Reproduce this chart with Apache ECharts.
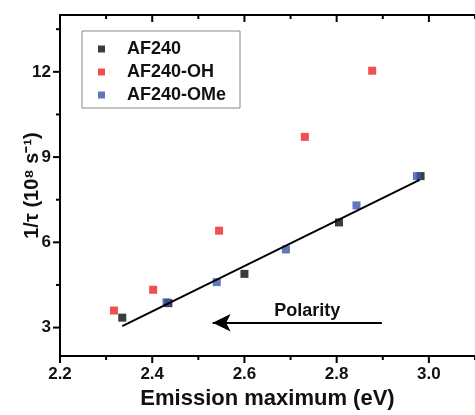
<!DOCTYPE html>
<html>
<head>
<meta charset="utf-8">
<script src="https://cdn.jsdelivr.net/npm/echarts@6/dist/echarts.min.js"></script>
<style>
  html, body { margin: 0; padding: 0; background: #fff; }
  #chart { width: 475px; height: 415px; }
</style>
</head>
<body>
<div id="chart"></div>
<script>
// data
const af240 = [[2.335, 3.35], [2.435, 3.86], [2.600, 4.89], [2.805, 6.70], [2.982, 8.33]];
const af240OH = [[2.317, 3.60], [2.402, 4.33], [2.545, 6.41], [2.731, 9.71], [2.877, 12.04]];
const af240OMe = [[2.431, 3.89], [2.540, 4.60], [2.690, 5.75], [2.843, 7.30], [2.974, 8.33]];
const fitLine = [[2.335, 3.05], [2.980, 8.20]];
const polarityArrow = [[2.531, 3.17], [2.898, 3.17]];

// axis ranges and tick values
const xMin = 2.2, xMax = 3.1;
const yMin = 2, yMax = 14;
const xMajorTicks = [2.2, 2.4, 2.6, 2.8, 3.0];
const xMinorTicks = [2.3, 2.5, 2.7, 2.9, 3.1];
const yMajorTicks = [3, 6, 9, 12];
const yMinorTicks = [4.5, 7.5, 10.5, 13.5];

const font = 'Liberation Sans';

const chart = echarts.init(document.getElementById('chart'));

// tick marks drawn through the axis scales (custom series)
const tickSeries = (values, side, len) => ({
  type: 'custom',
  silent: true,
  z: 5,
  clip: false,
  data: values.map(v => [v]),
  renderItem: (params, api) => {
    const v = api.value(0);
    let shape;
    if (side === 'bottom') {
      const p = api.coord([v, yMin]);
      shape = { x1: p[0], y1: p[1], x2: p[0], y2: p[1] + len };
    } else if (side === 'top') {
      const p = api.coord([v, yMax]);
      shape = { x1: p[0], y1: p[1], x2: p[0], y2: p[1] + len };
    } else {
      const p = api.coord([xMin, v]);
      shape = { x1: p[0] - len, y1: p[1], x2: p[0], y2: p[1] };
    }
    return { type: 'line', shape: shape, style: { stroke: '#000', lineWidth: 2 } };
  }
});

const xAxisBase = () => ({
  type: 'value',
  min: xMin,
  max: xMax,
  interval: 0.2,
  splitLine: { show: false },
  axisLine: { lineStyle: { color: '#000', width: 2 } },
  axisTick: { show: false },
  minorTick: { show: false }
});

const bottomX = xAxisBase();
bottomX.position = 'bottom';
bottomX.name = 'Emission maximum (eV)';
bottomX.nameLocation = 'middle';
bottomX.nameGap = 32;
bottomX.nameTextStyle = { fontFamily: font, fontSize: 22, fontWeight: 'bold', color: '#111' };
bottomX.axisLabel = {
  fontFamily: font, fontSize: 17, fontWeight: 'bold', color: '#111', margin: 10, showMaxLabel: false,
  formatter: v => v.toFixed(1)
};

const topX = xAxisBase();
topX.position = 'top';
topX.axisLabel = { show: false };

const option = {
  animation: false,
  grid: { left: 60, top: 15, bottom: 55, right: -11 },
  legend: {
    orient: 'vertical',
    left: 82,
    top: 31,
    padding: [9, 14, 4, 16],
    itemGap: 5,
    itemWidth: 7,
    itemHeight: 7,
    icon: 'rect',
    borderColor: '#888',
    borderWidth: 1,
    data: ['AF240', 'AF240-OH', 'AF240-OMe'],
    textStyle: { fontFamily: font, fontSize: 18, fontWeight: 'bold', color: '#111', padding: [0, 0, 0, 17] }
  },
  xAxis: [bottomX, topX],
  yAxis: {
    type: 'value',
    min: yMin,
    max: yMax,
    position: 'left',
    splitLine: { show: false },
    axisLine: { lineStyle: { color: '#000', width: 2 } },
    axisTick: { show: false },
    axisLabel: { customValues: yMajorTicks, fontFamily: font, fontSize: 17, fontWeight: 'bold', color: '#111', margin: 9 },
    name: '1/τ (10⁸ s⁻¹)',
    nameLocation: 'middle',
    nameGap: 16,
    nameMoveOverlap: false,
    nameTextStyle: { fontFamily: font, fontSize: 20, fontWeight: 'bold', color: '#111', lineHeight: 24 }
  },
  series: [
    {
      name: 'AF240',
      type: 'scatter',
      symbol: 'rect',
      symbolSize: 8,
      itemStyle: { color: '#0a0a0a' },
      data: af240
    },
    {
      name: 'AF240-OH',
      type: 'scatter',
      symbol: 'rect',
      symbolSize: 8,
      itemStyle: { color: '#ee2424' },
      data: af240OH
    },
    {
      name: 'AF240-OMe',
      type: 'scatter',
      symbol: 'rect',
      symbolSize: 8,
      itemStyle: { color: '#3a55ad' },
      data: af240OMe
    },
    {
      name: 'fit',
      type: 'line',
      symbol: 'none',
      silent: true,
      lineStyle: { color: '#000', width: 2 },
      data: fitLine,
      markLine: {
        silent: true,
        symbol: ['arrow', 'none'],
        symbolSize: [13, 18],
        lineStyle: { color: '#000', width: 2, type: 'solid' },
        label: {
          show: true,
          position: 'middle',
          formatter: 'Polarity',
          distance: 3,
          padding: [0, 0, 0, 20],
          fontFamily: font,
          fontSize: 18,
          fontWeight: 'bold',
          color: '#111'
        },
        data: [[{ coord: polarityArrow[0] }, { coord: polarityArrow[1] }]]
      }
    },
    tickSeries(xMajorTicks, 'bottom', 7),
    tickSeries(xMinorTicks, 'bottom', 4),
    tickSeries(xMajorTicks, 'top', 7),
    tickSeries(xMinorTicks, 'top', 4),
    tickSeries(yMajorTicks, 'left', 7),
    tickSeries(yMinorTicks, 'left', 4)
  ]
};

chart.setOption(option);
</script>
</body>
</html>
